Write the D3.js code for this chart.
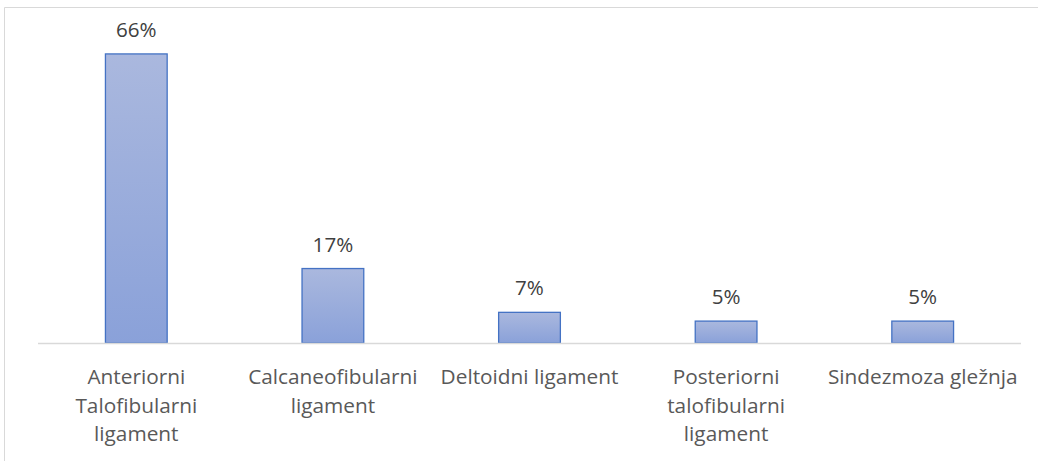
<!DOCTYPE html>
<html>
<head>
<meta charset="utf-8">
<script src="https://cdn.jsdelivr.net/npm/d3@7"></script>
<style>
  body { margin: 0; background: #fff; }
  svg { display: block; font-family: "Open Sans", Lato, sans-serif; }
</style>
</head>
<body>
<svg id="chart" width="1038" height="461"></svg>
<script>
const categories = [
    ['Anteriorni', 'Talofibularni', 'ligament'],
    ['Calcaneofibularni', 'ligament'],
    ['Deltoidni ligament'],
    ['Posteriorni', 'talofibularni', 'ligament'],
    ['Sindezmoza gležnja']
]
const values = [66, 17, 7, 5, 5]

const svg = d3.select('#chart')
const left = 38
const right = 1021
const axisY = 343
const yMax = 70
const textColor = '#595959'

// chart frame (only top and left visible)
svg.append('path')
    .attr('d', 'M4.5,461 V7.5 H1038')
    .attr('fill', 'none')
    .attr('stroke', '#d9d9d9')
    .attr('stroke-width', 1)

const defs = svg.append('defs')
const grad = defs.append('linearGradient')
    .attr('id', 'barFill')
    .attr('x1', 0).attr('y1', 0)
    .attr('x2', 0).attr('y2', 1)
grad.append('stop').attr('offset', '0%').attr('stop-color', '#aab8de')
grad.append('stop').attr('offset', '100%').attr('stop-color', '#8aa1d9')

const x = d3.scaleBand()
    .domain(d3.range(values.length))
    .range([left, right])
    .paddingInner(0.686)
    .paddingOuter(0.343)

const y = d3.scaleLinear()
    .domain([0, yMax])
    .range([axisY, axisY - 4.38 * yMax])

svg.selectAll('rect.bar')
    .data(values)
    .enter()
    .append('rect')
    .attr('class', 'bar')
    .attr('x', (_, i) => x(i))
    .attr('y', d => y(d))
    .attr('width', x.bandwidth())
    .attr('height', d => y(0) - y(d))
    .attr('fill', 'url(#barFill)')
    .attr('stroke', '#4472c4')
    .attr('stroke-width', 1.3)

svg.append('line')
    .attr('x1', left).attr('x2', right)
    .attr('y1', axisY + 0.5).attr('y2', axisY + 0.5)
    .attr('stroke', '#d9d9d9')
    .attr('stroke-width', 1.5)

svg.selectAll('text.value')
    .data(values)
    .enter()
    .append('text')
    .attr('class', 'value')
    .attr('x', (_, i) => x(i) + x.bandwidth() / 2)
    .attr('y', d => y(d) - 17)
    .attr('text-anchor', 'middle')
    .attr('font-size', 20.6)
    .attr('fill', '#404040')
    .text(d => d + '%')

const labels = svg.selectAll('text.cat')
    .data(categories)
    .enter()
    .append('text')
    .attr('class', 'cat')
    .attr('text-anchor', 'middle')
    .attr('font-size', 20.8)
    .attr('fill', textColor)

labels.selectAll('tspan')
    .data((d, i) => d.map(line => ({line, i})))
    .enter()
    .append('tspan')
    .attr('x', d => x(d.i) + x.bandwidth() / 2)
    .attr('y', (_, j) => 384 + j * 28.5)
    .text(d => d.line)
</script>
</body>
</html>
